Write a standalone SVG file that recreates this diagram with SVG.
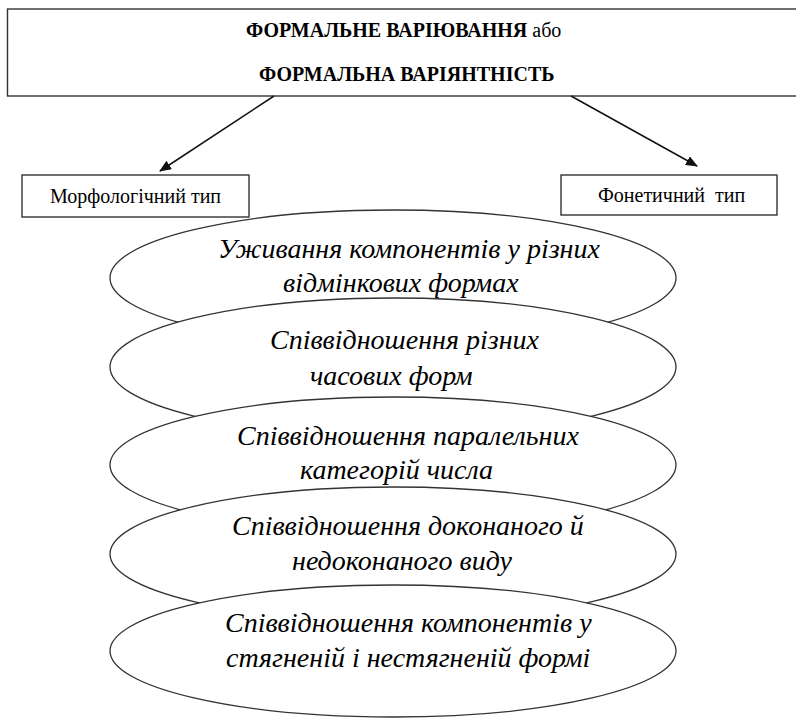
<svg xmlns="http://www.w3.org/2000/svg" width="796" height="720" viewBox="0 0 796 720">
<defs>
<marker id="ah" viewBox="0 0 12 10" refX="11" refY="5" markerWidth="12" markerHeight="10" markerUnits="userSpaceOnUse" orient="auto">
<path d="M0,0 L12,5 L0,10 Z" fill="#111"/>
</marker>
</defs>
<g id="top">
<rect x="7.5" y="9" width="795" height="87" fill="#fff" stroke="#333" stroke-width="1.4"/>
<text x="246" y="37" font-family="Liberation Serif" font-size="20"><tspan font-weight="bold">ФОРМАЛЬНЕ ВАРІЮВАННЯ</tspan> або</text>
<text x="259" y="81" font-family="Liberation Serif" font-size="20" font-weight="bold">ФОРМАЛЬНА ВАРІЯНТНІСТЬ</text>
</g>
<g id="connectors" stroke="#111" stroke-width="1.5" fill="none">
<line x1="274" y1="96" x2="160" y2="171" marker-end="url(#ah)"/>
<line x1="571" y1="96" x2="697" y2="166" marker-end="url(#ah)"/>
</g>
<g id="morph">
<rect x="22" y="175" width="227" height="42" fill="#fff" stroke="#333" stroke-width="1.4"/>
<text x="50" y="203" font-family="Liberation Serif" font-size="20">Морфологічний тип</text>
</g>
<g id="phon">
<rect x="561" y="175" width="216" height="40" fill="#fff" stroke="#333" stroke-width="1.4"/>
<text x="598" y="202" font-family="Liberation Serif" font-size="20" xml:space="preserve">Фонетичний  тип</text>
</g>
<g id="e1">
<ellipse cx="393" cy="278" rx="283" ry="68" fill="#fff" stroke="#333" stroke-width="1.3"/>
<text x="218" y="258" font-family="Liberation Serif" font-style="italic" font-size="28">Уживання компонентів у різних</text>
<text x="283" y="292" font-family="Liberation Serif" font-style="italic" font-size="28">відмінкових формах</text>
</g>
<g id="e2">
<ellipse cx="393" cy="367" rx="283" ry="69" fill="#fff" stroke="#333" stroke-width="1.3"/>
<text x="270" y="349" font-family="Liberation Serif" font-style="italic" font-size="28">Співвідношення різних</text>
<text x="310" y="385" font-family="Liberation Serif" font-style="italic" font-size="28">часових форм</text>
</g>
<g id="e3">
<ellipse cx="393" cy="465" rx="283" ry="68" fill="#fff" stroke="#333" stroke-width="1.3"/>
<text x="237" y="445" font-family="Liberation Serif" font-style="italic" font-size="28">Співвідношення паралельних</text>
<text x="300" y="479" font-family="Liberation Serif" font-style="italic" font-size="28">категорій числа</text>
</g>
<g id="e4">
<ellipse cx="393" cy="554" rx="283" ry="67" fill="#fff" stroke="#333" stroke-width="1.3"/>
<text x="232" y="535" font-family="Liberation Serif" font-style="italic" font-size="28">Співвідношення доконаного й</text>
<text x="292" y="570" font-family="Liberation Serif" font-style="italic" font-size="28">недоконаного виду</text>
</g>
<g id="e5">
<ellipse cx="393" cy="651" rx="283" ry="66" fill="#fff" stroke="#333" stroke-width="1.3"/>
<text x="225" y="632" font-family="Liberation Serif" font-style="italic" font-size="28">Співвідношення компонентів у</text>
<text x="226" y="667" font-family="Liberation Serif" font-style="italic" font-size="28">стягненій і нестягненій формі</text>
</g>
</svg>
